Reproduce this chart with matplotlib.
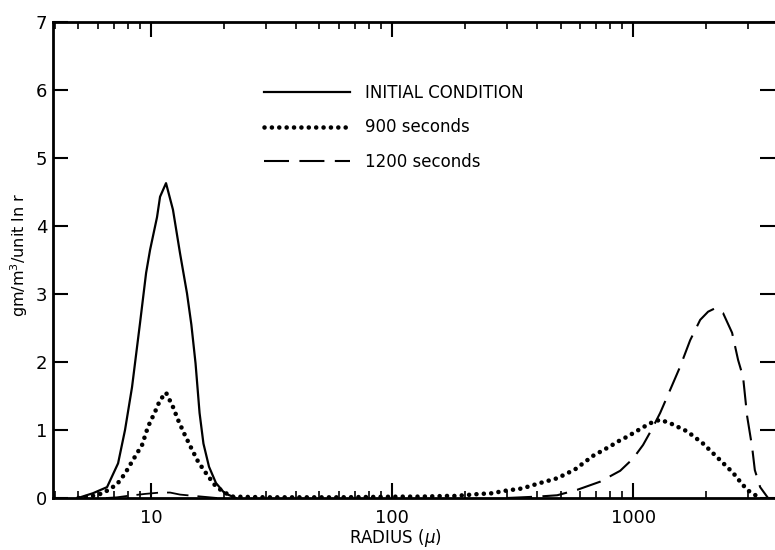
import numpy as np
import matplotlib
matplotlib.use("Agg")
import matplotlib.pyplot as plt

plt.rcParams.update({
    "font.family": ["DejaVu Sans"],
    "font.size": 12,
})

# initial condition (solid)
r_init = [4.98, 5.74, 6.57, 7.30, 7.80, 8.34, 9.00, 9.54, 9.91, 10.59, 10.9, 11.54,
          12.33, 13.19, 14.1, 14.7, 15.3, 15.9, 16.5, 17.4, 18.6, 20.2, 22.5]
m_init = [0.0, 0.07, 0.16, 0.51, 1.0, 1.63, 2.57, 3.31, 3.65, 4.13, 4.43, 4.63,
          4.24, 3.60, 3.01, 2.55, 1.98, 1.25, 0.80, 0.46, 0.22, 0.07, 0.0]

# 900 seconds (dotted)
r_900 = [5.0, 5.58, 6.32, 7.22, 7.80, 8.42, 9.18, 9.72, 10.4, 10.9, 11.54, 12.33,
         12.94, 13.8, 14.8, 15.7, 17.1, 18.4, 19.9, 21.9, 30, 60, 108, 131, 169,
         183, 232, 262, 286, 346, 411, 484, 574, 682, 803, 884, 944, 1100, 1210,
         1295, 1425, 1676, 1952, 2232, 2600, 2782, 2974, 3118, 3367]
m_900 = [0.0, 0.02, 0.07, 0.20, 0.36, 0.56, 0.78, 1.05, 1.27, 1.44, 1.55, 1.34,
         1.15, 0.93, 0.71, 0.53, 0.34, 0.19, 0.09, 0.02, 0.01, 0.01, 0.02, 0.02, 0.03,
         0.03, 0.06, 0.07, 0.10, 0.14, 0.22, 0.29, 0.42, 0.62, 0.76, 0.85, 0.90, 1.04, 1.12,
         1.15, 1.10, 0.98, 0.80, 0.60, 0.37, 0.24, 0.12, 0.07, 0.0]

# 1200 seconds (dashed): small bump near 10 and main peak near 2000
r_1200a = [6.5, 7.22, 7.95, 9.44, 10.9, 12.0, 13.2, 15.2, 18.8]
m_1200a = [0.0, 0.01, 0.03, 0.06, 0.08, 0.08, 0.05, 0.03, 0.0]
r_1200b = [300, 400, 484, 586, 730, 884, 1000, 1100, 1200, 1295, 1425, 1567, 1725,
           1899, 2048, 2189, 2362, 2575, 2727, 2860, 2974, 3118, 3200, 3367, 3630]
m_1200b = [0.0, 0.02, 0.04, 0.12, 0.24, 0.40, 0.58, 0.78, 1.02, 1.25, 1.59, 1.93, 2.32,
           2.62, 2.74, 2.79, 2.72, 2.43, 2.03, 1.78, 1.20, 0.75, 0.41, 0.16, 0.0]

fig = plt.figure(figsize=(7.75, 5.5), dpi=100)
ax = fig.add_axes([53/775, 52/550, 722/775, 476/550])

ax.plot(r_init, m_init, color='black', lw=1.6, label='INITIAL CONDITION')
ax.plot(r_900, m_900, color='black', lw=3.3, linestyle=(0, (0.01, 1.6)),
        dash_capstyle='round', label='900 seconds')
ax.plot(r_1200a, m_1200a, color='black', lw=1.3, linestyle=(0, (12, 5)))
ax.plot(r_1200b, m_1200b, color='black', lw=1.5, linestyle=(0, (12, 5)),
        label='1200 seconds')

ax.set_xscale('log')
ax.set_xlim(3.92, 3880)
ax.set_ylim(0, 7)
ax.set_yticks(range(8))
ax.set_xticks([10, 100, 1000])
ax.set_xticklabels(['10', '100', '1000'])
ax.yaxis.set_minor_locator(matplotlib.ticker.NullLocator())

ax.tick_params(axis='both', which='major', direction='in', labelsize=13,
               width=1.5, top=True, right=True)
ax.tick_params(axis='x', which='major', length=11, pad=8)
ax.tick_params(axis='x', which='minor', direction='in', length=5, width=1.2,
               top=True)
ax.tick_params(axis='y', which='major', length=11, pad=4)
for s in ['left', 'bottom', 'top']:
    ax.spines[s].set_linewidth(2)
ax.spines['right'].set_visible(False)

ax.set_xlabel(r'RADIUS ($\mu$)', fontsize=12)
ax.xaxis.set_label_coords(0.474, -0.06)
ax.set_ylabel(r'gm/m$^3$/unit ln r', fontsize=11.5)
ax.yaxis.set_label_coords(-0.032, 0.51)

ax.legend(loc='upper left', bbox_to_anchor=(0.292, 0.870), frameon=False,
          handlelength=5.2, handletextpad=0.9, labelspacing=0.99,
          borderpad=0, borderaxespad=0, fontsize=12)

plt.savefig('out.png', dpi=100)
